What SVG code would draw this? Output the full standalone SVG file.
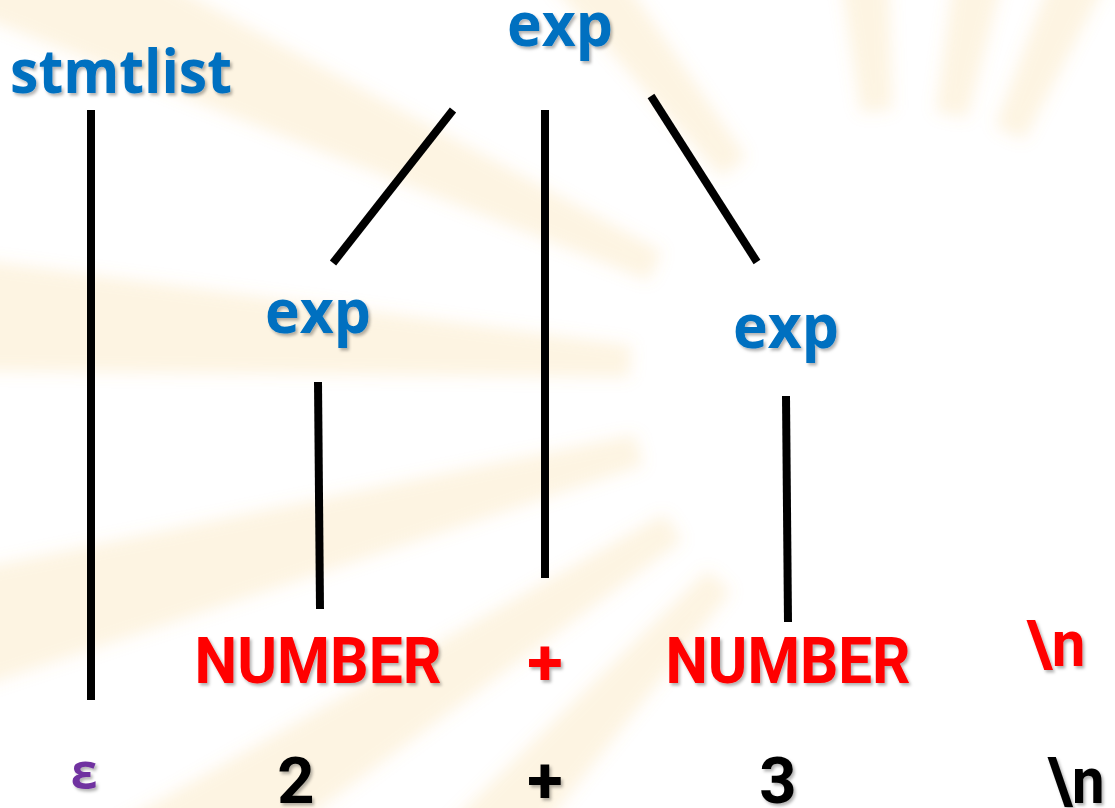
<svg xmlns="http://www.w3.org/2000/svg" width="1115" height="808" viewBox="0 0 1115 808">
<defs>
<filter id="blur" x="-20%" y="-20%" width="140%" height="140%"><feGaussianBlur stdDeviation="8"/></filter>
<filter id="sh" x="-10%" y="-10%" width="130%" height="130%"><feDropShadow dx="2" dy="2.5" stdDeviation="1.5" flood-color="#000" flood-opacity="0.3"/></filter>
<polygon id="ray" points="-270,-16 -1000,-60 -1000,60 -270,16"/>
</defs>
<style>
.blue{font-family:"Open Sans","DejaVu Sans",sans-serif;font-weight:bold;font-size:60px;fill:#0070C0;text-anchor:middle}
.tok{font-family:Roboto,"Liberation Sans",sans-serif;font-weight:bold;font-size:65px;text-anchor:middle}
.red{fill:#FF0000}
.blk{fill:#000}
.eps{font-family:"Open Sans","DejaVu Sans",sans-serif;font-weight:bold;font-size:48px;fill:#7030A0;text-anchor:middle}
.edge{stroke:#000;stroke-width:8;fill:none}
.rays use{fill:#f6c25e;opacity:0.18}
</style>
<rect width="1115" height="808" fill="#fff"/>
<g class="rays" filter="url(#blur)" transform="translate(900,380)">
<use href="#ray" transform="rotate(85)"/>
<use href="#ray" transform="rotate(101)"/>
<use href="#ray" transform="rotate(114)"/>
<use href="#ray" transform="rotate(52)"/>
<use href="#ray" transform="rotate(25)"/>
<use href="#ray" transform="rotate(4)"/>
<use href="#ray" transform="rotate(-15)"/>
<use href="#ray" transform="rotate(-33)"/>
<use href="#ray" transform="rotate(-48)"/>
</g>
<g id="connectors">
<line class="edge" x1="91" y1="110" x2="91" y2="700"/>
<line class="edge" x1="453" y1="110" x2="333" y2="263"/>
<line class="edge" x1="545" y1="110" x2="545" y2="578"/>
<line class="edge" x1="651" y1="96" x2="757" y2="262"/>
<line class="edge" x1="318" y1="382" x2="320" y2="609"/>
<line class="edge" x1="786" y1="396" x2="788" y2="622"/>
</g>
<g filter="url(#sh)">
<g id="stmtlist"><text class="blue" x="121" y="93" textLength="222" lengthAdjust="spacingAndGlyphs">stmtlist</text></g>
<g id="exp-top"><text class="blue" x="560" y="46" textLength="106" lengthAdjust="spacingAndGlyphs">exp</text></g>
<g id="exp-left"><text class="blue" x="318" y="333" textLength="106" lengthAdjust="spacingAndGlyphs">exp</text></g>
<g id="exp-right"><text class="blue" x="786" y="348" textLength="106" lengthAdjust="spacingAndGlyphs">exp</text></g>
<g id="number-left"><text class="tok red" x="318" y="683" textLength="247" lengthAdjust="spacingAndGlyphs">NUMBER</text></g>
<g id="plus-token"><text class="tok red" x="545" y="685">+</text></g>
<g id="number-right"><text class="tok red" x="788" y="683" textLength="245" lengthAdjust="spacingAndGlyphs">NUMBER</text></g>
<g id="newline-token"><text class="tok red" x="1056" y="666" textLength="59" lengthAdjust="spacingAndGlyphs">\n</text></g>
<g id="epsilon"><text class="eps" x="84" y="789">ε</text></g>
<g id="two"><text class="tok blk" x="296" y="803">2</text></g>
<g id="plus"><text class="tok blk" x="545" y="803">+</text></g>
<g id="three"><text class="tok blk" x="778" y="803">3</text></g>
<g id="newline"><text class="tok blk" x="1076" y="803" textLength="57" lengthAdjust="spacingAndGlyphs">\n</text></g>
</g>
</svg>
